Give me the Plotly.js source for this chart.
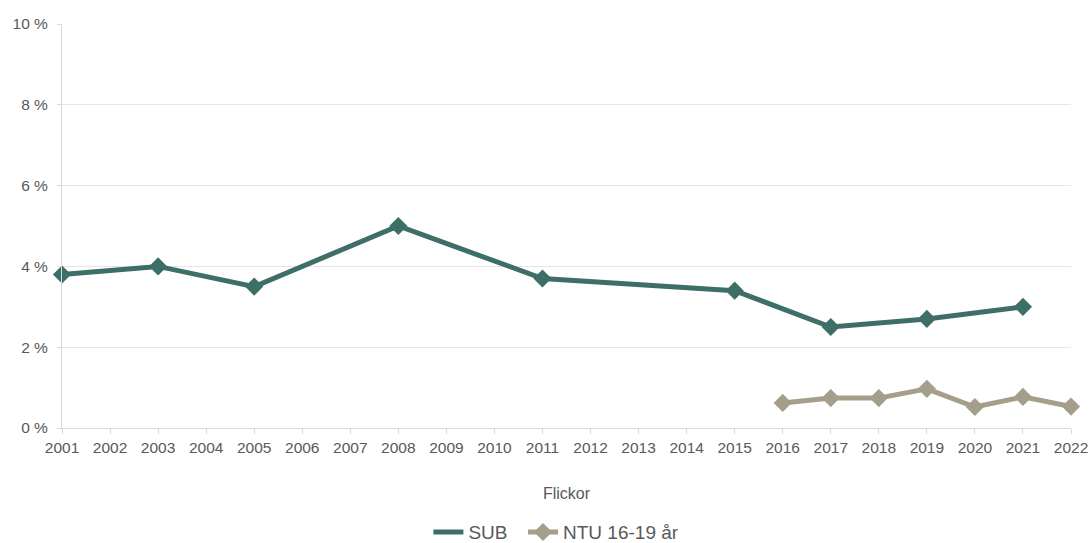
<!DOCTYPE html>
<html><head><meta charset="utf-8">
<script src="https://cdn.plot.ly/plotly-3.0.1.min.js"></script>
<style>html,body{margin:0;padding:0;background:#fff}#chart{width:1091px;height:543px}</style>
</head><body><div id="chart"></div>
<script>
const subYears = [2001, 2003, 2005, 2008, 2011, 2015, 2017, 2019, 2021];
const subValues = [3.8, 4.0, 3.5, 5.0, 3.7, 3.4, 2.5, 2.7, 3.0];
const ntuYears = [2016, 2017, 2018, 2019, 2020, 2021, 2022];
const ntuValues = [0.62, 0.74, 0.74, 0.97, 0.52, 0.77, 0.53];
const yTicks = [0, 2, 4, 6, 8, 10];
const xTitle = 'Flickor';

const subColor = '#3E6E68', ntuColor = '#A59E8A';
const traces = [
  {x: subYears, y: subValues, name: 'SUB\u00a0\u00a0', mode: 'lines', line: {color: subColor, width: 5}, cliponaxis: false},
  {x: subYears, y: subValues, name: 'SUB', mode: 'markers', showlegend: false, marker: {symbol: 'diamond', size: 14, color: subColor}, cliponaxis: false},
  {x: ntuYears, y: ntuValues, name: 'NTU 16-19 år', mode: 'lines+markers', line: {color: ntuColor, width: 5}, marker: {symbol: 'diamond', size: 14, color: ntuColor}, cliponaxis: false}
];
const layout = {
  width: 1091, height: 543,
  margin: {l: 62, r: 20, t: 24, b: 115, autoexpand: false},
  paper_bgcolor: '#fff', plot_bgcolor: '#fff',
  font: {family: 'Liberation Sans, Arial, sans-serif', color: '#595959', size: 16},
  showlegend: true,
  legend: {orientation: 'h', x: 0.51, xanchor: 'center', xref: 'container', yref: 'container', y: 0.02, yanchor: 'middle', font: {size: 19, color: '#595959'}, traceorder: 'normal'},
  xaxis: {
    range: [2001, 2022], tickmode: 'linear', dtick: 1, tick0: 2001,
    showgrid: false, zeroline: false, showline: true, linecolor: '#d9d9d9', linewidth: 1,
    ticks: 'outside', ticklen: 5, tickcolor: '#d9d9d9', tickfont: {size: 15.5, color: '#595959'},
    title: {text: xTitle, font: {size: 16, color: '#595959'}, standoff: 33}
  },
  yaxis: {
    range: [0, 10], tickvals: yTicks, ticktext: yTicks.map(v => v + ' %'),
    showgrid: true, gridcolor: '#e6e6e6', zeroline: false, showline: true, linecolor: '#d9d9d9',
    ticks: 'outside', ticklen: 4, tickcolor: '#d9d9d9', ticklabelstandoff: 6, tickfont: {size: 15.5, color: '#595959'}
  }
};
Plotly.newPlot('chart', traces, layout, {displayModeBar: false, staticPlot: true});
</script></body></html>
